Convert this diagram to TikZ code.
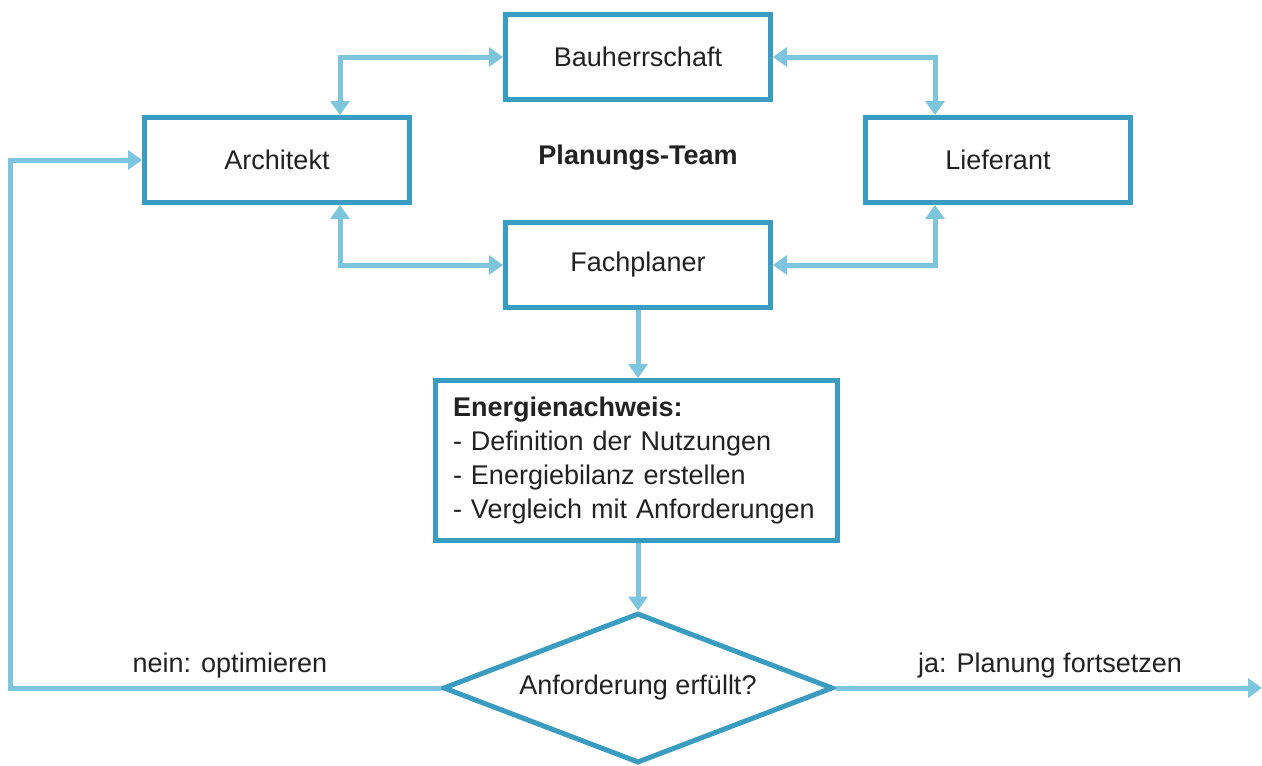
\documentclass[tikz,border=0pt]{standalone}
\usepackage{fontspec}
\setmainfont{Liberation Sans}
\usetikzlibrary{arrows.meta,shapes.geometric,calc}
\definecolor{boxblue}{HTML}{3A9CC0}
\definecolor{arrowblue}{HTML}{7CC5DC}
\definecolor{txt}{HTML}{222222}
\begin{document}
\begin{tikzpicture}[x=1pt,y=-1pt,
  font=\fontsize{27}{34}\selectfont, text=txt,
  box/.style={draw=boxblue, line width=5pt, minimum width=265pt, minimum height=85pt, inner sep=0pt},
  conn/.style={draw=arrowblue, line width=5pt, arrows={-Triangle[width=19pt,length=14pt]}},
  biconn/.style={draw=arrowblue, line width=5pt, arrows={Triangle[width=19pt,length=14pt]-Triangle[width=19pt,length=14pt]}},
  plain/.style={draw=arrowblue, line width=5pt},
  lbl/.style={inner sep=0pt}]
\useasboundingbox (0,0) rectangle (1262,766);
\fill[white] (0,0) rectangle (1262,766);

\node[box] (b) at (638,57) {Bauherrschaft};
\node[box] (a) at (277,160) {Architekt};
\node[box] (l) at (998,160) {Lieferant};
\node[box] (f) at (638,265) {Fachplaner};
\node[lbl, font=\fontsize{27}{34}\selectfont\bfseries] (pt) at (638,158) {Planungs-Team};

\node[draw=boxblue, line width=5pt, minimum width=402pt, minimum height=160pt,
      text width=367pt, inner xsep=17.5pt, inner ysep=0pt, align=left] (e) at (636.5,460.5)
  {\textbf{Energienachweis:}\\- Definition der Nutzungen\\- Energiebilanz erstellen\\- Vergleich mit Anforderungen};

\node[draw=boxblue, line width=5pt, diamond, aspect=2.56, minimum width=390pt, minimum height=150pt, inner sep=0pt] (d) at (638,688) {Anforderung erfüllt?};

\draw[biconn] (b.west) -| ([xshift=63pt]a.north);
\draw[biconn] (b.east) -| ([xshift=-63pt]l.north);
\draw[biconn] ([xshift=63pt]a.south) |- (f.west);
\draw[biconn] (f.east) -| ([xshift=-63pt]l.south);
\draw[conn] (f.south) -- (e.north -| f.south);
\draw[conn] (e.south -| d.north) -- (d.north);

\coordinate (lp) at (10,688);
\coordinate (rend) at (1262,688);
\draw[conn] (d.west) -- (lp) |- (a.west);
\draw[conn] (d.east) -- (rend);

\node[lbl] (no) at (230,666) {nein: optimieren};
\node[lbl] (yes) at (1050,666) {ja: Planung fortsetzen};
\end{tikzpicture}
\end{document}
